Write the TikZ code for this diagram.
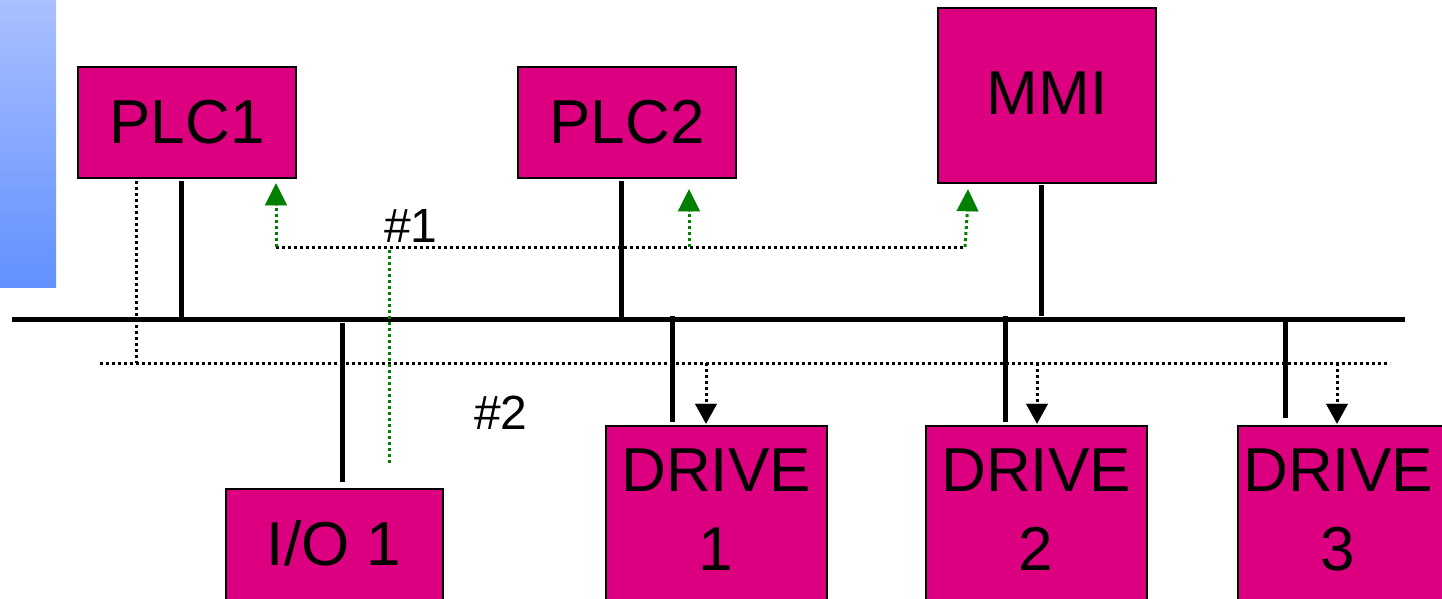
\documentclass[tikz,border=0pt]{standalone}
\usepackage{fontspec}
\setmainfont{Liberation Sans}
\usetikzlibrary{arrows.meta,calc}
\definecolor{boxfill}{RGB}{220,0,128}
\definecolor{gtop}{RGB}{170,192,255}
\definecolor{gbot}{RGB}{98,144,255}
\definecolor{arrgreen}{RGB}{0,128,0}
\tikzset{
  devbox/.style={draw=black, line width=2.5pt, fill=boxfill, inner sep=0pt},
  devtext/.style={inner sep=0pt, font=\fontsize{62}{79}\selectfont, align=center},
  lbl/.style={inner sep=0pt, font=\fontsize{48}{56}\selectfont},
  busline/.style={line width=5pt},
  dropline/.style={line width=5pt},
  dotline/.style={line width=3pt, dash pattern=on 3pt off 3pt},
  gdot/.style={dotline, draw=arrgreen},
  gtip/.style={-{Triangle[length=22pt,width=22pt]}, arrgreen},
  btip/.style={-{Triangle[length=20pt,width=22pt]}, black},
}
\begin{document}
\begin{tikzpicture}[x=1pt,y=-1pt]
\useasboundingbox (0,0) rectangle (1442,598);
\clip (0,0) rectangle (1442,598);
% gradient bar
\shade[top color=gtop, bottom color=gbot] (0,0) rectangle (56,287);

% boxes
\node[devbox, minimum width=218pt, minimum height=111pt] (plc1) at (187,122.5) {};
\node[devtext] (plc1t) at (187,122) {PLC1};
\node[devbox, minimum width=218pt, minimum height=111pt] (plc2) at (627,122.5) {};
\node[devtext] (plc2t) at (627,122) {PLC2};
\node[devbox, minimum width=218pt, minimum height=175pt] (mmi) at (1047,95.5) {};
\node[devtext] (mmit) at (1047,93) {MMI};
\node[devbox, minimum width=217pt, minimum height=180pt] (io1) at (334.5,579) {};
\node[devtext] (io1t) at (334,543) {I/O 1};
\node[devbox, minimum width=221pt, minimum height=220pt] (dr1) at (716.5,536) {};
\node[devtext] (dr1t) at (716,510) {DRIVE\\1};
\node[devbox, minimum width=221pt, minimum height=220pt] (dr2) at (1036.5,536) {};
\node[devtext] (dr2t) at (1036,510) {DRIVE\\2};
\node[devbox, minimum width=221pt, minimum height=220pt] (dr3) at (1348.5,536) {};
\node[devtext] (dr3t) at (1338,510) {DRIVE\\3};

% labels
\node[lbl] (l1) at (411,226) {\#1};
\node[lbl] (l2) at (501,413) {\#2};

% bus
\coordinate (busL) at (12,319);
\coordinate (busR) at (1405,319);
\draw[busline] (busL) -- (busR);

% drops
\draw[dropline] ($(plc1.south)+(-6,2)$) -- ($(plc1.south |- busL)+(-6,0)$);
\draw[dropline] ($(plc2.south)+(-6,2)$) -- ($(plc2.south |- busL)+(-6,0)$);
\draw[dropline] ($(mmi.south)+(-6,1)$) -- ($(mmi.south |- busL)+(-6,-3)$);
\draw[dropline] ($(io1.north |- busL)+(7.5,4)$) -- ($(io1.north)+(7.5,-6)$);
\draw[dropline] ($(dr1.north |- busL)+(-44.5,-3)$) -- ($(dr1.north)+(-44.5,-3)$);
\draw[dropline] ($(dr2.north |- busL)+(-31.5,-3)$) -- ($(dr2.north)+(-31.5,-3)$);
\draw[dropline] ($(dr3.north |- busL)+(-63.5,0)$) -- ($(dr3.north)+(-63.5,-7)$);

% network #2 (dotted)
\coordinate (n2L) at (100,363);
\coordinate (n2R) at (1390,363);
\coordinate (n2c) at (136,363);
\draw[dotline] (n2L) -- (n2R);
\draw[dotline] ($(plc1.south)+(-51,2)$) -- (n2c);
\coordinate (d1a) at (706,363);
\coordinate (d2a) at (1037,363);
\coordinate (d3a) at (1337,363);
\draw[dotline] (d1a) -- ($(d1a |- dr1.north)+(0,-16)$);
\draw[btip] ($(d1a |- dr1.north)+(0,-20)$) -- ($(d1a |- dr1.north)+(0,-1)$);
\draw[dotline] (d2a) -- ($(d2a |- dr2.north)+(0,-16)$);
\draw[btip] ($(d2a |- dr2.north)+(0,-20)$) -- ($(d2a |- dr2.north)+(0,-1)$);
\draw[dotline] (d3a) -- ($(d3a |- dr3.north)+(0,-16)$);
\draw[btip] ($(d3a |- dr3.north)+(0,-20)$) -- ($(d3a |- dr3.north)+(0,-1)$);

% network #1 (dotted, green arrows)
\coordinate (g1) at (276,247);
\coordinate (g2) at (689,247);
\coordinate (g3) at (965,247);
\coordinate (gv) at (389,250);
\coordinate (gvb) at (389,463);
\draw[dotline] (g1) -- (g3);
\draw[gdot] (g1) -- (276,203);
\draw[gtip] (276,205) -- ($(plc1.south)+(89,4)$);
\draw[gdot] (g2) -- (689,209);
\draw[gtip] (689,211) -- ($(plc2.south)+(62,10)$);
\draw[gdot] (g3) -- (967.5,209);
\draw[gtip] (967.5,211) -- ($(mmi.south)+(-79,5)$);
\draw[gdot] (gv) -- (gvb);
\end{tikzpicture}
\end{document}
